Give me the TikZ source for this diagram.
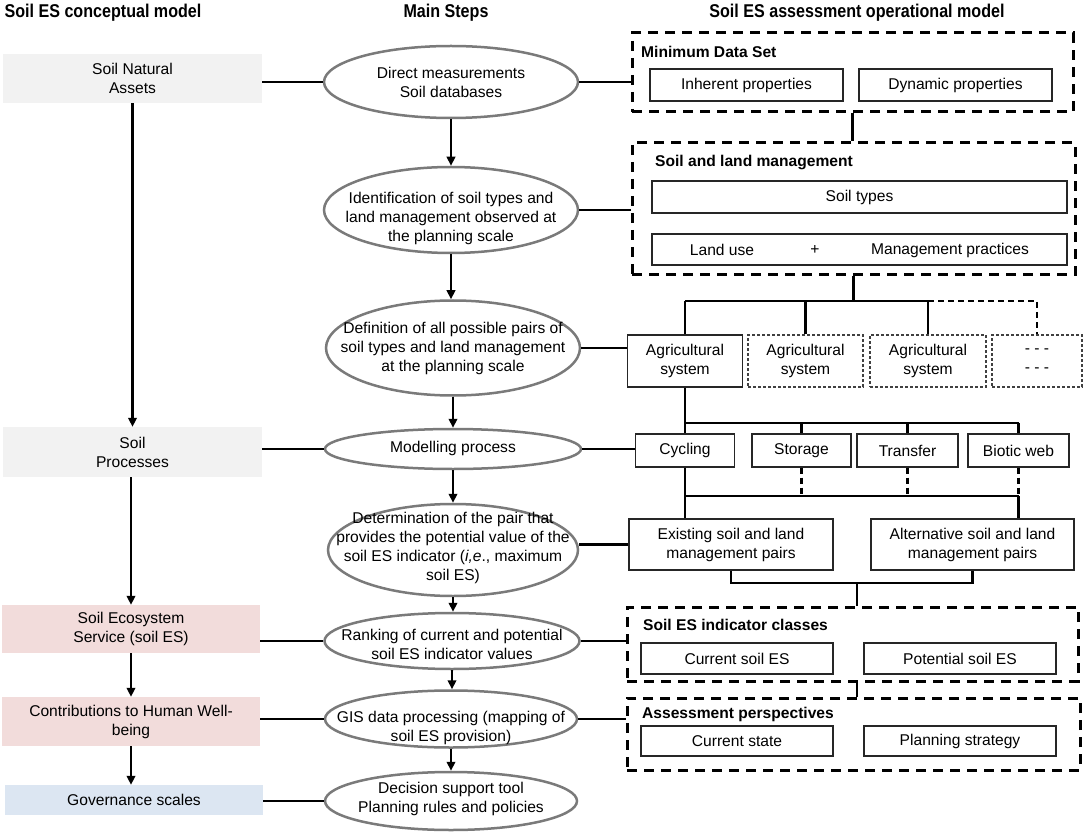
\documentclass[tikz,border=0pt]{standalone}
\usepackage{fontspec}
\setmainfont{Liberation Sans}
\usepackage{graphicx}
\usetikzlibrary{arrows.meta,shapes.geometric}
\definecolor{lgray}{HTML}{F2F2F2}
\definecolor{lpink}{HTML}{F2DCDB}
\definecolor{lblue}{HTML}{DCE6F2}
\definecolor{egray}{HTML}{7A7A7A}
\begin{document}
\begin{tikzpicture}[x=1pt,y=-1pt,font=\fontsize{15.6}{19}\selectfont,
  leftbox/.style={inner sep=0pt,align=center},
  ell/.style={ellipse,draw=egray,line width=2.5pt,fill=white,inner sep=0pt},
  etext/.style={align=center,inner sep=0pt},
  rbox/.style={draw=black!85,line width=1.3pt,inner sep=0pt,align=center},
  dbox/.style={draw=black!75,line width=1.1pt,dash pattern=on 3pt off 2pt,inner sep=0pt,align=center},
  cont/.style={draw=black,line width=3pt,dash pattern=on 10pt off 7pt,inner sep=0pt},
  conn/.style={line width=2.2pt},
  arr/.style={line width=2.2pt,-{Triangle[length=9pt,width=8.5pt]}},
  dconn/.style={line width=2.2pt,dash pattern=on 6pt off 4pt},
  ttl/.style={anchor=west,inner sep=0pt,font=\fontsize{15.6}{19}\selectfont\bfseries},
  hdr/.style={inner sep=0pt,font=\fontsize{18.5}{22}\selectfont\bfseries}]
\useasboundingbox (0,0) rectangle (1084,834);

% headers
\node[hdr] (h1) at (103,13) {\scalebox{0.87}[1]{Soil ES conceptual model}};
\node[hdr] (h2) at (446,13) {\scalebox{0.87}[1]{Main Steps}};
\node[hdr] (h3) at (857,13) {\scalebox{0.87}[1]{Soil ES assessment operational model}};

% left column
\node[leftbox,fill=lgray,minimum width=259pt,minimum height=49pt] (sna) at (132.5,78.5) {Soil Natural\\Assets};
\node[leftbox,fill=lgray,minimum width=259pt,minimum height=50pt] (sp) at (132.5,452) {Soil\\Processes};
\node[leftbox,fill=lpink,minimum width=258pt,minimum height=48pt] (ses) at (131,629) {Soil Ecosystem\\Service (soil ES)};
\node[leftbox,fill=lpink,minimum width=258pt,minimum height=49pt] (chw) at (131,721.5) {Contributions to Human Well-\\being};
\node[leftbox,fill=lblue,minimum width=258pt,minimum height=30pt] (gs) at (134,800) {Governance scales};

% ellipses
\node[ell,minimum width=254pt,minimum height=72pt] (e1) at (451,82) {};
\node[etext] at (451,82.5) {Direct measurements\\Soil databases};
\node[ell,minimum width=254pt,minimum height=86pt] (e2) at (451,210) {};
\node[etext] at (451,218) {Identification of soil types and\\land management observed at\\the planning scale};
\node[ell,minimum width=254pt,minimum height=95pt] (e3) at (453,348) {};
\node[etext] at (453,348) {Definition of all possible pairs of\\soil types and land management\\at the planning scale};
\node[ell,minimum width=256pt,minimum height=40pt] (e4) at (453,449) {};
\node[etext] at (453,448.5) {Modelling process};
\node[ell,minimum width=250pt,minimum height=92pt] (e5) at (453,550) {};
\node[etext] at (453,547.5) {Determination of the pair that\\provides the potential value of the\\soil ES indicator (\textit{i,e}., maximum\\soil ES)};
\node[ell,minimum width=255pt,minimum height=56pt] (e6) at (452,641) {};
\node[etext] at (452,644) {Ranking of current and potential\\soil ES indicator values};
\node[ell,minimum width=252pt,minimum height=57pt] (e7) at (451,719) {};
\node[etext] at (451,728) {GIS data processing (mapping of\\soil ES provision)};
\node[ell,minimum width=252pt,minimum height=58pt] (e8) at (451,801) {};
\node[etext] at (451,798.5) {Decision support tool\\Planning rules and policies};

% right: minimum data set
\node[cont,minimum width=441pt,minimum height=79pt] (mds) at (852.5,72.5) {};
\node[ttl] (mdst) at (641,52) {Minimum Data Set};
\node[rbox,minimum width=193pt,minimum height=32pt] (ip) at (746.5,85) {Inherent properties};
\node[rbox,minimum width=193pt,minimum height=32pt] (dp) at (955.5,85) {Dynamic properties};

% soil and land management
\node[cont,minimum width=443pt,minimum height=132pt] (slm) at (853.5,209) {};
\node[ttl] (slmt) at (655,163) {Soil and land management};
\node[rbox,minimum width=415pt,minimum height=32pt] (st) at (859.5,197) {Soil types};
\node[rbox,minimum width=415pt,minimum height=31pt] (lm) at (859.5,249.5) {};
\node (lu) at (722,250) {Land use};
\node (plus) at (815,250) {+};
\node (mp) at (950,250) {Management practices};

% agricultural systems
\node[rbox,minimum width=115pt,minimum height=52pt] (a1) at (685,361) {Agricultural\\system};
\node[dbox,minimum width=115pt,minimum height=52pt] (a2) at (805.5,361) {Agricultural\\system};
\node[dbox,minimum width=116pt,minimum height=52pt] (a3) at (928,361) {Agricultural\\system};
\node[dbox,minimum width=90pt,minimum height=52pt] (a4) at (1037,361) {- - -\\- - -};

% processes
\node[rbox,minimum width=99pt,minimum height=33pt] (cyc) at (685,450.5) {Cycling};
\node[rbox,minimum width=99pt,minimum height=33pt] (sto) at (801.5,450.5) {Storage};
\node[rbox,minimum width=101pt,minimum height=33pt] (tra) at (907.5,450.5) {Transfer};
\node[rbox,minimum width=101pt,minimum height=33pt] (bio) at (1018.5,450.5) {Biotic web};

% pairs
\node[rbox,minimum width=204pt,minimum height=51pt] (ex) at (731,544.5) {Existing soil and land\\management pairs};
\node[rbox,minimum width=203pt,minimum height=51pt] (alt) at (972.5,544.5) {Alternative soil and land\\management pairs};

% indicator classes
\node[cont,minimum width=451pt,minimum height=74pt] (seic) at (852.5,644) {};
\node[ttl] (seict) at (643,625) {Soil ES indicator classes};
\node[rbox,minimum width=192pt,minimum height=31pt] (cse) at (737,658.5) {Current soil ES};
\node[rbox,minimum width=192pt,minimum height=31pt] (pse) at (960,658.5) {Potential soil ES};

% assessment perspectives
\node[cont,minimum width=453pt,minimum height=72pt] (ap) at (853.5,734) {};
\node[ttl] (apt) at (642,714) {Assessment perspectives};
\node[rbox,minimum width=192pt,minimum height=30pt] (cst) at (737,741) {Current state};
\node[rbox,minimum width=192pt,minimum height=30pt] (pst) at (960,741) {Planning strategy};

% coordinates for buses
\coordinate (bus1) at (0,301);
\coordinate (bus2) at (0,423);
\coordinate (bus3) at (0,496);
\coordinate (b4) at (857,583);

% left arrows
\draw[arr] (sna.south) -- (sna.south |- sp.north);
\draw[arr] (sp.south -| ses.north) -- (ses.north);
\draw[arr] (ses.south) -- (chw.north);
\draw[arr] (chw.south) -- (chw.south |- gs.north);

% middle arrows
\draw[arr] (e1.south) -- (e1.south |- e2.north);
\draw[arr] (e2.south) -- (e2.south |- e3.north);
\draw[arr] (e3.south) -- (e3.south |- e4.north);
\draw[arr] (e4.south) -- (e4.south |- e5.north);
\draw[arr] (e5.south) -- (e5.south |- e6.north);
\draw[arr] (e6.south) -- (e6.south |- e7.north);
\draw[arr] (e7.south) -- (e7.south |- e8.north);

% left to middle
\draw[conn] (sna.east |- e1) -- (e1.west);
\draw[conn] (sp.east |- e4) -- (e4.west);
\draw[conn] (ses.east |- e6) -- (e6.west);
\draw[conn] (chw.east |- e7) -- (e7.west);
\draw[conn] (gs.east |- e8) -- (e8.west);

% middle to right
\draw[conn] (e1.east) -- (e1.east -| mds.west);
\draw[conn] (e2.east) -- (e2.east -| slm.west);
\draw[conn] (a1.west |- e3) -- (e3.east);
\draw[conn] (e4.east) -- (e4.east -| cyc.west);
\draw[conn] (ex.west) -- (ex.west -| e5.east);
\draw[conn] (e6.east) -- (e6.east -| seic.west);
\draw[conn] (e7.east) -- (e7.east -| ap.west);

% right connectors
\draw[conn] (mds.south) -- (mds.south |- slm.north);
\draw[conn] (slm.south) -- (slm.south |- bus1);
\draw[conn] (a1.north |- bus1) -- (a3.north |- bus1);
\draw[conn] (a1.north |- bus1) -- (a1.north);
\draw[conn] (a2.north |- bus1) -- (a2.north);
\draw[conn] (a3.north |- bus1) -- (a3.north);
\draw[dconn] (a3.north |- bus1) -- (a4.north |- bus1) -- (a4.north);

\draw[conn] (a1.south) -- (cyc.north);
\draw[conn] (cyc.north |- bus2) -- (bio.north |- bus2);
\draw[conn] (sto.north |- bus2) -- (sto.north);
\draw[conn] (tra.north |- bus2) -- (tra.north);
\draw[conn] (bio.north |- bus2) -- (bio.north);

\draw[conn] (cyc.south) -- (cyc.south |- ex.north);
\draw[dconn] (sto.south) -- (sto.south |- bus3);
\draw[dconn] (tra.south) -- (tra.south |- bus3);
\draw[dconn] (bio.south) -- (bio.south |- bus3);
\draw[conn] (cyc.south |- bus3) -- (bio.south |- bus3);
\draw[conn] (bio.south |- bus3) -- (bio.south |- alt.north);

\draw[conn] (ex.south) |- (b4) -| (alt.south);
\draw[conn] (b4) -- (b4 |- seic.north);
\draw[conn] (seic.south -| b4) -- (b4 |- ap.north);
\end{tikzpicture}
\end{document}
